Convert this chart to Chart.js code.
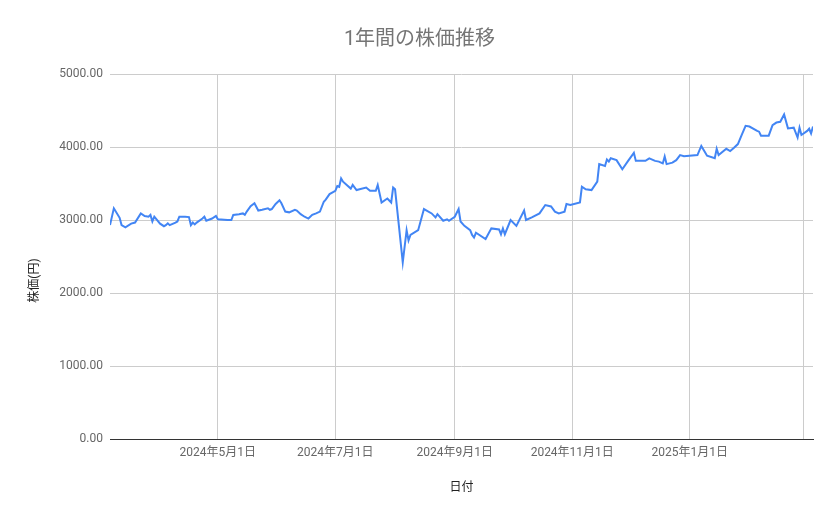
<!DOCTYPE html>
<html lang="ja">
<head>
<meta charset="utf-8">
<title>1年間の株価推移</title>
<script src="https://cdn.jsdelivr.net/npm/chart.js@4.4.0/dist/chart.umd.min.js"></script>
<style>
  html, body { margin: 0; padding: 0; background: #fff; }
  #chart { display: block; }
</style>
</head>
<body>
<canvas id="chart" width="839" height="519"></canvas>
<script>
// 期間の開始日 (day 0)
const startDate = '2024-03-06';
const endDay = 365;

// 開始日からの日数
const days = [
  0, 2, 5, 6, 8, 11, 13, 16, 18, 20, 21, 22, 23, 26, 28, 29, 30, 31, 34, 35,
  36, 39, 41, 42, 43, 44, 45, 48, 49, 50, 53, 55, 56, 61, 63, 64, 67, 69, 70, 71,
  73, 75, 77, 79, 82, 83, 84, 86, 88, 89, 91, 93, 96, 97, 99, 101, 103, 105, 107, 109,
  111, 112, 114, 117, 118, 119, 120, 121, 125, 126, 128, 133, 135, 138, 139, 141, 144, 146, 147, 148,
  152, 154, 155, 156, 160, 163, 167, 169, 170, 173, 175, 176, 179, 181, 182, 184, 187, 188, 189, 190,
  195, 198, 202, 203, 204, 205, 208, 211, 215, 216, 219, 223, 226, 229, 231, 233, 236, 237, 239, 244,
  245, 247, 250, 253, 254, 257, 258, 259, 260, 263, 266, 269, 272, 273, 275, 278, 280, 283, 285, 287,
  288, 289, 292, 294, 296, 298, 305, 307, 310, 314, 315, 316, 320, 322, 324, 326, 328, 330, 332, 336,
  337, 338, 342, 344, 346, 348, 350, 352, 355, 357, 358, 359, 362, 363, 364, 365
];

// 株価(円)
const prices = [
  2930, 3160, 3030, 2930, 2900, 2950, 2965, 3090, 3055, 3045, 3070, 2980, 3045, 2950, 2915, 2930, 2955, 2930, 2965, 2980,
  3045, 3045, 3040, 2930, 2965, 2940, 2965, 3020, 3045, 2990, 3020, 3055, 3010, 3000, 3000, 3070, 3080, 3090, 3070, 3115,
  3190, 3230, 3130, 3140, 3160, 3140, 3150, 3220, 3270, 3230, 3115, 3105, 3140, 3130, 3080, 3045, 3020, 3070, 3090, 3115,
  3250, 3280, 3355, 3400, 3465, 3455, 3570, 3525, 3430, 3480, 3410, 3445, 3400, 3400, 3480, 3240, 3295, 3240, 3445, 3420,
  2420, 2860, 2720, 2795, 2860, 3150, 3090, 3035, 3080, 2990, 3010, 2990, 3045, 3150, 2980, 2920, 2860, 2795, 2760, 2825,
  2740, 2885, 2870, 2805, 2885, 2805, 3000, 2920, 3130, 3000, 3035, 3090, 3205, 3185, 3115, 3090, 3115, 3220, 3205, 3240,
  3455, 3420, 3410, 3525, 3765, 3740, 3830, 3800, 3845, 3820, 3695, 3810, 3920, 3810, 3810, 3810, 3845, 3810, 3800, 3775,
  3870, 3765, 3785, 3820, 3890, 3875, 3890, 4015, 3880, 3845, 3975, 3890, 3975, 3945, 3990, 4040, 4165, 4290, 4280, 4220,
  4210, 4155, 4155, 4300, 4335, 4345, 4445, 4255, 4265, 4130, 4265, 4165, 4220, 4250, 4185, 4280
];

// x軸の目盛り(日付)と表示ラベル
const tickDates = ['2024-05-01', '2024-07-01', '2024-09-01', '2024-11-01', '2025-01-01', '2025-03-01'];
const tickLabels = ['2024年5月1日', '2024年7月1日', '2024年9月1日', '2024年11月1日', '2025年1月1日', ''];

const DAY = 24 * 60 * 60 * 1000;
const dayOf = (s) => Math.round((Date.parse(s) - Date.parse(startDate)) / DAY);
const tickDays = tickDates.map(dayOf);

const font = "Roboto, 'Noto Sans CJK JP', sans-serif";

// y軸タイトル: Sheets と同じく少し下寄りに描く
const yTitle = {
  id: 'yTitle',
  afterDraw(chart) {
    const { ctx, chartArea } = chart;
    ctx.save();
    ctx.translate(35, (chartArea.top + chartArea.bottom) / 2 + 24);
    ctx.rotate(-Math.PI / 2);
    ctx.font = '12px ' + font;
    ctx.fillStyle = '#222';
    ctx.textAlign = 'center';
    ctx.textBaseline = 'middle';
    ctx.fillText('株価(円)', 0, 0);
    ctx.restore();
  }
};

new Chart(document.getElementById('chart'), {
  type: 'line',
  data: {
    datasets: [{
      label: '株価',
      data: days.map((d, i) => ({ x: d, y: prices[i] })),
      borderColor: '#4285F4',
      borderWidth: 2,
      pointRadius: 0,
      tension: 0,
      fill: false
    }]
  },
  options: {
    responsive: false,
    animation: false,
    layout: { padding: 0 },
    plugins: {
      legend: { display: false },
      tooltip: { enabled: false },
      title: {
        display: true,
        text: '1年間の株価推移',
        color: '#757575',
        font: { family: font, size: 20, weight: 'normal' },
        padding: { top: 28, bottom: 22 }
      }
    },
    scales: {
      x: {
        type: 'linear',
        min: 0,
        max: endDay,
        afterBuildTicks: (scale) => { scale.ticks = tickDays.map(v => ({ value: v })); },
        afterFit: (scale) => { scale.height = 80; },
        ticks: {
          autoSkip: false,
          maxRotation: 0,
          padding: 7,
          color: '#666',
          font: { family: font, size: 12 },
          callback: (v, i) => tickLabels[i]
        },
        grid: { color: '#cccccc', drawTicks: false },
        border: { display: true, color: '#333333', width: 1 },
        title: {
          display: true,
          text: '日付',
          color: '#222',
          font: { family: font, size: 12 },
          padding: { top: 0, bottom: 23.5 }
        }
      },
      y: {
        min: 0,
        max: 5000,
        afterFit: (scale) => { scale.width = 110; },
        ticks: {
          stepSize: 1000,
          padding: 7,
          color: '#666',
          font: { family: font, size: 12 },
          callback: (v) => v.toFixed(2)
        },
        grid: {
          drawTicks: false,
          color: (ctx) => (ctx.tick && ctx.tick.value === 0 ? 'rgba(0,0,0,0)' : '#cccccc')
        },
        border: { display: false }
      },
      // 右側の余白用 (表示なし)
      yRight: {
        position: 'right',
        display: true,
        afterFit: (scale) => { scale.width = 26; },
        ticks: { display: false },
        grid: { display: false },
        border: { display: false }
      }
    }
  },
  plugins: [yTitle]
});
</script>
</body>
</html>
